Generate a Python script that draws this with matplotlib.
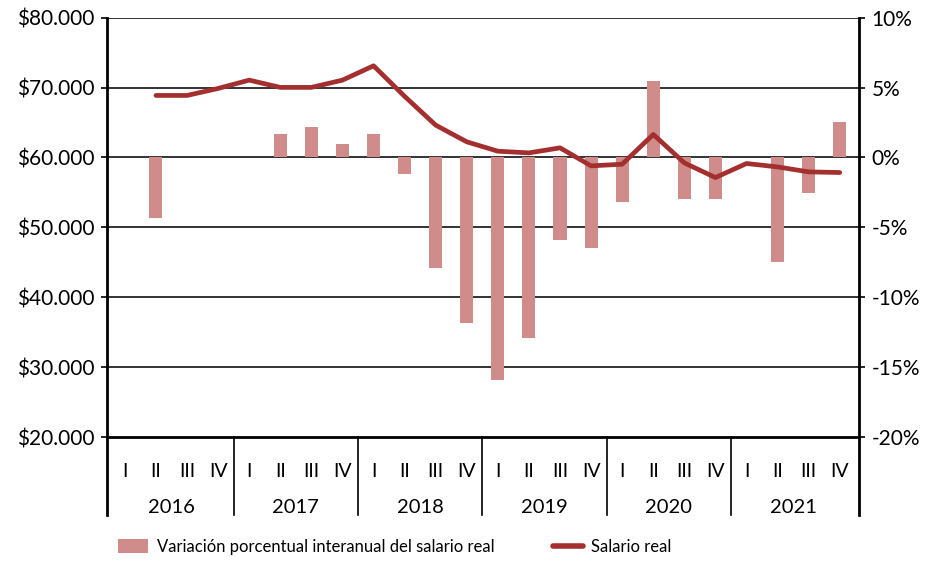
import numpy as np
import matplotlib
matplotlib.use("Agg")
import matplotlib.pyplot as plt
import matplotlib.transforms as mtransforms
from matplotlib.patches import Patch
from matplotlib.lines import Line2D

plt.rcParams['font.family'] = ['Lato', 'DejaVu Sans']

# data
years = ["2016", "2017", "2018", "2019", "2020", "2021"]
quarters = ["I", "II", "III", "IV"]

# salario real (left axis), 2016 I .. 2021 IV
salario = [np.nan, 68880, 68880, 69880,
           71070, 70030, 70030, 71070,
           73120, 68750, 64630, 62240,
           60900, 60660, 61380, 58800,
           59040, 63300, 59230, 57130,
           59140, 58650, 57940, 57850]

# variación porcentual interanual (right axis, %)
variacion = [np.nan, -4.35, np.nan, np.nan,
             np.nan, 1.65, 2.15, 0.98,
             1.65, -1.2, -7.9, -11.85,
             -15.9, -12.9, -5.9, -6.5,
             -3.2, 5.45, -3.0, -3.0,
             np.nan, -7.5, -2.55, 2.55]

line_color = "#A3302F"
bar_color = "#D08C8A"

n = len(salario)
x = np.arange(n)
x_lo, x_hi = -0.576, 23.62

fig = plt.figure(figsize=(9.31, 5.61), dpi=100)
ax_pct = fig.add_axes([0.1149, 0.2210, 0.8078, 0.7474])
ax_sal = ax_pct.twinx()
ax_sal.set_zorder(ax_pct.get_zorder() + 1)
ax_sal.patch.set_visible(False)

# percent axis on the right with bars
ax_pct.set_ylim(-20, 10)
ax_pct.set_yticks(np.arange(-20, 11, 5))
ax_pct.set_yticklabels([f"{v}%" for v in range(-20, 11, 5)])
for v in range(-15, 11, 5):
    ax_pct.axhline(v, color="#222222", lw=1.3, zorder=0)
ax_pct.bar(x, variacion, width=0.42, color=bar_color, zorder=2)

# money axis on the left with the line
ax_sal.set_ylim(20000, 80000)
ax_sal.set_yticks(np.arange(20000, 80001, 10000))
ax_sal.set_yticklabels(["$" + f"{v:,}".replace(",", ".") for v in range(20000, 80001, 10000)])
ax_sal.plot(x, salario, color=line_color, lw=3.4, solid_capstyle="round", solid_joinstyle="round")

for a in (ax_pct, ax_sal):
    a.set_xlim(x_lo, x_hi)
    a.spines["top"].set_visible(False)
    a.tick_params(axis="y", labelsize=15, length=4, width=1.2, pad=5, colors="black")
ax_pct.tick_params(axis="y", right=True, left=False, labelright=True, labelleft=False)
ax_sal.tick_params(axis="y", left=True, right=False, labelleft=True, labelright=False)
for s in ("left", "right", "bottom"):
    ax_sal.spines[s].set_linewidth(2)
    ax_pct.spines[s].set_visible(False)

# category axis: quarters and years (x axis of the twin is hidden, so use ax_pct)
ax_pct.set_xticks(x)
ax_pct.set_xticklabels(quarters * len(years))
ax_pct.tick_params(axis="x", length=0, labelsize=14, pad=19)

trans = mtransforms.blended_transform_factory(ax_sal.transData, ax_sal.transAxes)
sep_bottom = -0.186
for k in range(len(years) + 1):
    xs = k * 4 - 0.5
    if k == 0:
        xs = x_lo
    if k == len(years):
        xs = x_hi
    ax_sal.plot([xs, xs], [0, sep_bottom], transform=trans, color="black",
                lw=2 if k in (0, len(years)) else 1.2, clip_on=False)
for k, yr in enumerate(years):
    ax_sal.text(k * 4 + 1.5, -0.169, yr, transform=trans, ha="center", va="center", fontsize=14.5)

handles = [Patch(facecolor=bar_color, edgecolor="none"),
           Line2D([0], [0], color=line_color, lw=4, solid_capstyle="round")]
labels = ["Variación porcentual interanual del salario real", "Salario real"]
fig.legend(handles, labels, loc="center left", bbox_to_anchor=(0.127, 0.025), ncol=2, frameon=False,
           fontsize=12, columnspacing=3.5, handlelength=1.8, handleheight=0.9, handletextpad=0.5,
           borderaxespad=0, borderpad=0)

fig.savefig("out.png", dpi=100)
